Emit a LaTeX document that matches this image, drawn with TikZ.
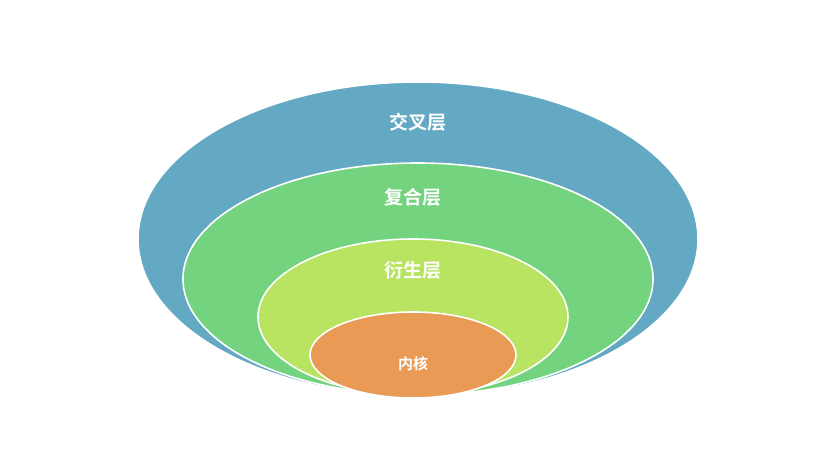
\documentclass[tikz,border=0pt]{standalone}
\usepackage{fontspec}
\newfontfamily\cjk{Noto Sans CJK SC Bold}
\begin{document}
\begin{tikzpicture}[x=1pt,y=1pt,yscale=-1,xscale=1]
\tikzset{layer/.style={draw={rgb, 255:red, 255; green, 255; blue, 255 },line width=1.6pt},
  lbl/.style={inner sep=0.75pt,text=white,font=\cjk\fontsize{19}{22}\selectfont}}
\useasboundingbox (0,0) rectangle (830,454);
%Shape: Ellipse [id:outer]
\draw [layer][fill={rgb, 255:red, 100; green, 169; blue, 195 }] (418,239) ellipse [x radius=280, y radius=157];
%Shape: Ellipse [id:compound]
\draw [layer][fill={rgb, 255:red, 116; green, 211; blue, 126 }] (418,279) ellipse [x radius=235, y radius=116];
%Shape: Ellipse [id:derived]
\draw [layer][fill={rgb, 255:red, 184; green, 228; blue, 98 }] (413,317) ellipse [x radius=155, y radius=78];
%Shape: Ellipse [id:core]
\draw [layer][fill={rgb, 255:red, 233; green, 154; blue, 85 }] (413,355) ellipse [x radius=103, y radius=43];

% Text Node
\node [lbl] (cross) at (418,122) {交叉层};
% Text Node
\node [lbl] (comp) at (413,197) {复合层};
% Text Node
\node [lbl] (deriv) at (413,270) {衍生层};
% Text Node
\node [lbl,font=\cjk\fontsize{15}{18}\selectfont] (kern) at (413,364) {内核};
\end{tikzpicture}
\end{document}
